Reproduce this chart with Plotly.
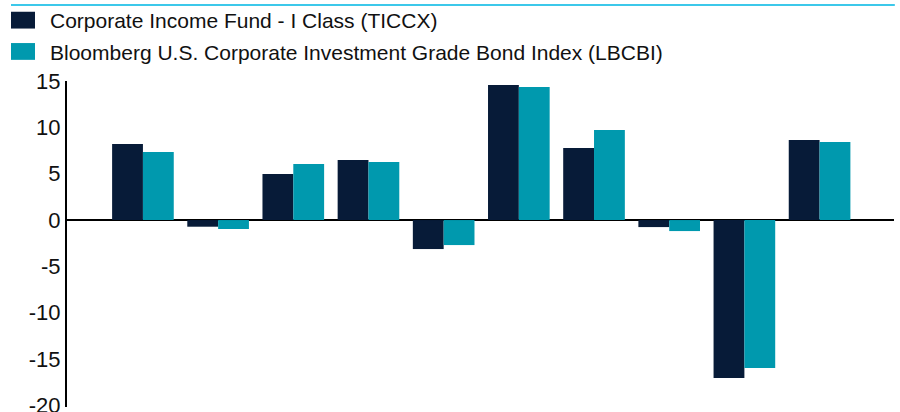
import plotly.graph_objects as go

# Calendar-year total returns (%)
years = ["2014", "2015", "2016", "2017", "2018", "2019", "2020", "2021", "2022", "2023"]
fund_name = "Corporate Income Fund - I Class (TICCX)"
index_name = "Bloomberg U.S. Corporate Investment Grade Bond Index (LBCBI)"
fund_returns = [8.2, -0.72, 4.96, 6.47, -3.13, 14.56, 7.77, -0.76, -17.04, 8.63]
index_returns = [7.34, -0.97, 6.04, 6.26, -2.70, 14.35, 9.71, -1.19, -15.97, 8.41]
y_ticks = [15, 10, 5, 0, -5, -10, -15, -20]

NAVY = "#071b38"
TEAL = "#0099ae"

fig = go.Figure()
fig.add_trace(go.Bar(x=years, y=fund_returns, name=fund_name,
                     marker=dict(color=NAVY, line=dict(width=0)),
                     legendgroup="a"))
fig.add_trace(go.Bar(x=years, y=index_returns, name=index_name,
                     marker=dict(color=TEAL, line=dict(width=0)),
                     legendgroup="b"))

fig.update_layout(
    width=900, height=412,
    margin=dict(l=67, r=6, t=81, b=5, autoexpand=False),
    paper_bgcolor="white", plot_bgcolor="white",
    barmode="group", bargap=0.18, bargroupgap=0,
    font=dict(family="Liberation Sans, Arial, sans-serif", color="#111111"),
    showlegend=True,
    legend=dict(
        xref="container", yref="container", x=10 / 900, y=1,
        xanchor="left", yanchor="top",
        traceorder="grouped", tracegroupgap=1,
        font=dict(family="Liberation Sans, Arial, sans-serif", size=21, color="#111111"),
        bgcolor="rgba(0,0,0,0)",
    ),
    xaxis=dict(
        type="category",
        range=[-1.01, 9.99],
        showticklabels=False, showgrid=False, zeroline=False,
        showline=False, ticks="",
    ),
    yaxis=dict(
        range=[-20.17, 15],
        tickvals=y_ticks, ticktext=[str(v) for v in y_ticks],
        showgrid=False,
        zeroline=True, zerolinecolor="#000000", zerolinewidth=2,
        showline=True, linecolor="#000000", linewidth=2,
        ticks="", ticklen=0, ticklabelstandoff=0,
        ticklabeloverflow="allow",
        tickfont=dict(family="Liberation Sans, Arial, sans-serif", size=22, color="#111111"),
    ),
)

# thin accent rule across the top of the figure
fig.add_shape(type="line", xref="paper", yref="paper",
              x0=-56 / 827, x1=1.001, y0=1 + 76 / 326, y1=1 + 76 / 326,
              line=dict(color="#3cc8ea", width=2))

# wider, left-shifted legend swatches
post = """
var gd = document.getElementsByClassName('plotly-graph-div')[0];
function styleLegend() {
  gd.querySelectorAll('.legend .legendpoints path').forEach(function (p) {
    if (!p.hasAttribute('data-orig')) {
      p.setAttribute('data-orig', p.getAttribute('transform') || '');
    }
    p.setAttribute('transform', 'translate(-7,0) ' + p.getAttribute('data-orig') + ' scale(2,1.4)');
  });
}
styleLegend();
gd.on('plotly_afterplot', styleLegend);
"""

fig.write_html("out.html", post_script=post)
